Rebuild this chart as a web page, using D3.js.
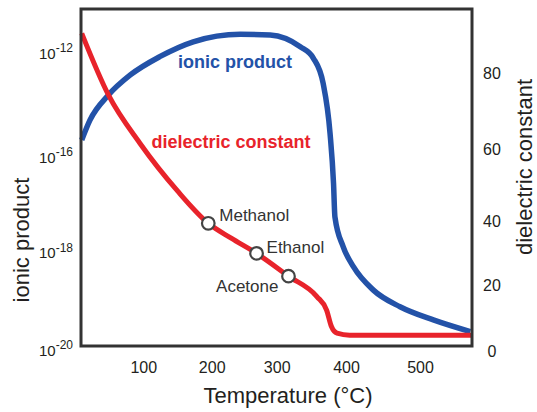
<!DOCTYPE html>
<html><head><meta charset="utf-8">
<script src="https://cdn.jsdelivr.net/npm/d3@7"></script>
<style>body{margin:0;background:#fff} text{font-family:"Liberation Sans",Arial,Helvetica,sans-serif}</style>
</head><body><svg id="c" width="537" height="412"></svg>
<script>
// ---- data ----
const tempTicks = [100, 200, 300, 400, 500];
const ionicTicks = [-20, -18, -16, -12];        // log10 of ionic product
const dielectricTicks = [0, 20, 40, 60, 80];

// dielectric constant vs temperature (°C)
const dielTemp  = [10, 49, 95, 150, 195, 230, 269, 317, 358, 372, 379, 387, 405, 570];
const dielValue = [90.5, 74.3, 61.6, 48.5, 39.5, 34.8, 30, 22.8, 16.5, 12.4, 7.4, 5.4, 4.8, 4.8];

// ionic product (log10) vs temperature (°C)
const ionTemp = [10, 22, 49, 81, 124, 173, 244, 290, 334, 353, 367, 377, 382, 384, 396, 410, 437, 473, 518, 568];
const ionExp  = [-15.32, -14.56, -13.6, -12.83, -12.13, -11.56, -11.27, -11.3, -11.75, -12.19, -13.15, -15.07, -16.54, -17.24, -17.87, -18.28, -18.76, -19.1, -19.37, -19.61];

// solvents marked on the dielectric curve
const solvents = ["Methanol", "Ethanol", "Acetone"];
const solventTemp = [195, 269, 317];
const solventDiel = [39.5, 30, 22.8];

// ---- layout ----
const frame = {left: 81, top: 9, right: 472, bottom: 346};
const red = "#e8232b", blue = "#2352a8", ink = "#231f20";

const svg = d3.select("#c");

// irregular (hand-drawn) axes -> piecewise linear scales
const x = d3.scaleLinear().domain(tempTicks).range([143.3, 211.7, 276.7, 346, 420]);
const yL = d3.scaleLinear().domain(ionicTicks).range([350.7, 253, 157.7, 53.3]);
const yR = d3.scaleLinear().domain(dielectricTicks).range([351, 285, 221.7, 149.3, 73.3]);

// curves
const dielData = dielTemp.map((t, i) => [t, dielValue[i]]);
const ionData = ionTemp.map((t, i) => [t, ionExp[i]]);

svg.append("path").datum(ionData)
  .attr("fill", "none").attr("stroke", blue).attr("stroke-width", 5.5)
  .attr("stroke-linejoin", "round")
  .attr("d", d3.line().x(d => x(d[0])).y(d => yL(d[1])).curve(d3.curveMonotoneX));

svg.append("path").datum(dielData)
  .attr("fill", "none").attr("stroke", red).attr("stroke-width", 5)
  .attr("stroke-linejoin", "round")
  .attr("d", d3.line().x(d => x(d[0])).y(d => yR(d[1])).curve(d3.curveMonotoneX));

// frame
svg.append("rect")
  .attr("x", frame.left).attr("y", frame.top)
  .attr("width", frame.right - frame.left).attr("height", frame.bottom - frame.top)
  .attr("fill", "none").attr("stroke", "#333").attr("stroke-width", 3);

// solvent markers
const sol = solvents.map((n, i) => ({name: n, t: solventTemp[i], e: solventDiel[i]}));
svg.selectAll("circle.sol").data(sol).join("circle")
  .attr("cx", d => x(d.t)).attr("cy", d => yR(d.e)).attr("r", 6.3)
  .attr("fill", "#fff").attr("stroke", "#444").attr("stroke-width", 2.2);

const solOffsets = {Methanol: [11, -2, "start"], Ethanol: [10, 0, "start"], Acetone: [-10, 16, "end"]};
svg.selectAll("text.sol").data(sol).join("text")
  .attr("x", d => x(d.t) + solOffsets[d.name][0])
  .attr("y", d => yR(d.e) + solOffsets[d.name][1])
  .attr("text-anchor", d => solOffsets[d.name][2])
  .attr("font-size", 17).attr("fill", "#333").text(d => d.name);

// series labels
svg.append("text").attr("x", 178).attr("y", 68).attr("font-size", 18).attr("font-weight", "bold")
  .attr("fill", blue).text("ionic product");
svg.append("text").attr("x", 151.5).attr("y", 148).attr("font-size", 18).attr("font-weight", "bold")
  .attr("fill", red).text("dielectric constant");

// bottom axis
const gx = svg.append("g").attr("transform", `translate(0,${frame.bottom})`)
  .call(d3.axisBottom(x).tickValues(tempTicks).tickSize(0).tickPadding(16));
gx.select(".domain").remove();
gx.selectAll("text").attr("font-size", 16).attr("fill", ink).attr("font-family", null);

// left axis (powers of ten)
const gl = svg.append("g").attr("transform", `translate(${frame.left},0)`)
  .call(d3.axisLeft(yL).tickValues(ionicTicks).tickSize(0).tickPadding(8));
gl.select(".domain").remove();
gl.selectAll("text").attr("font-size", 15).attr("fill", ink).attr("font-family", null)
  .each(function(d) {
    const t = d3.select(this).text("");
    t.append("tspan").text("10");
    t.append("tspan").attr("font-size", 12).attr("dy", "-0.55em").text(d);
  });

// right axis
const gr = svg.append("g").attr("transform", `translate(${frame.right},0)`)
  .call(d3.axisRight(yR).tickValues(dielectricTicks).tickSize(0).tickPadding(20));
gr.select(".domain").remove();
gr.selectAll("text").attr("font-size", 16).attr("fill", ink).attr("font-family", null)
  .attr("text-anchor", "middle");

// axis titles
svg.append("text").attr("x", 288).attr("y", 403).attr("text-anchor", "middle")
  .attr("font-size", 22).attr("fill", ink).text("Temperature (°C)");
svg.append("text").attr("transform", "translate(29,240) rotate(-90)").attr("text-anchor", "middle")
  .attr("font-size", 22).attr("fill", ink).text("ionic product");
svg.append("text").attr("transform", "translate(532,167) rotate(-90)").attr("text-anchor", "middle")
  .attr("font-size", 22).attr("fill", ink).text("dielectric constant");
</script>
</body></html>
